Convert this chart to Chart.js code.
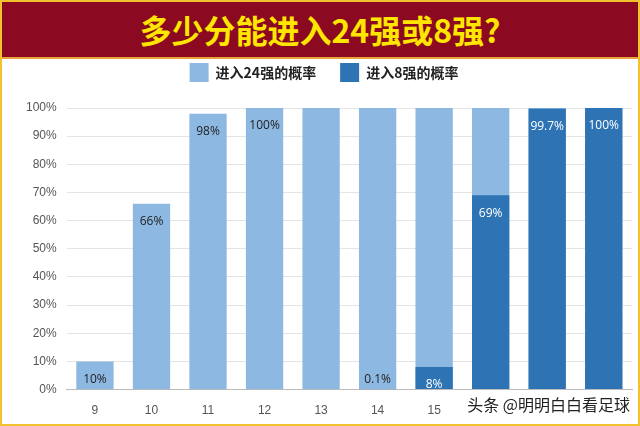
<!DOCTYPE html>
<html>
<head>
<meta charset="utf-8">
<script src="https://cdn.jsdelivr.net/npm/chart.js@4"></script>
<style>
  body { margin: 0; background: #fff; }
  #wrap { position: relative; width: 636px; height: 422px; border: 2px solid #f2c12e; overflow: hidden; }
  #banner { position: absolute; left: 0; top: 0; width: 636px; z-index: 2; height: 55px; background: #8b0a22;
    border-bottom: 2px solid #e8a33a; color: #ffe600;
    font: bold 32px "Noto Sans CJK SC", sans-serif; text-align: center; line-height: 55px; }
  #box { position: absolute; left: 0; top: 37px; width: 636px; height: 385px; }
  #mark { position: absolute; right: 6px; bottom: 8px; font: 16px "Noto Sans CJK SC", sans-serif; color: #222;
    background: rgba(255,255,255,0.85); padding: 0 2px; }
</style>
</head>
<body>
<div id="wrap">
  <div id="banner">多少分能进入24强或8强?</div>
  <div id="box"><canvas id="c"></canvas></div>
  <div id="mark">头条 @明明白白看足球</div>
</div>
<script>
// categories and values
const scores = ['9', '10', '11', '12', '13', '14', '15', '16', '17', '18'];
const top24 = [10, 66, 98, 100, 100, 100, 100, 100, 100, 100];
const top8 = [0, 0, 0, 0, 0, 0.1, 8, 69, 99.7, 100];
const top24Labels = ['10%', '66%', '98%', '100%', '', '', '', '', '', ''];
const top8Labels = ['', '', '', '', '', '0.1%', '8%', '69%', '99.7%', '100%'];

// draw value labels just inside the top of each bar
const valueLabels = {
    id: 'valueLabels',
    afterDatasetsDraw(chart) {
        const ctx = chart.ctx;
        ctx.save();
        ctx.font = '12px "Open Sans", sans-serif';
        ctx.textAlign = 'center';
        ctx.textBaseline = 'middle';
        [[0, top24Labels, '#222'], [1, top8Labels, '#fff']].forEach(([i, labels, color]) => {
            chart.getDatasetMeta(i).data.forEach((bar, j) => {
                if (!labels[j]) return;
                let y = bar.y + 18;
                let c = color;
                if (y > bar.base) { y = bar.base - 10; c = '#222'; }
                ctx.fillStyle = c;
                ctx.fillText(labels[j], bar.x, y);
            });
        });
        ctx.restore();
    }
};

// extra room under the legend
const legendGap = {
    id: 'legendGap',
    beforeInit(chart) {
        const fit = chart.legend.fit;
        chart.legend.fit = function () {
            fit.bind(chart.legend)();
            this.height += 16;
        };
    }
};

new Chart(document.getElementById('c'), {
    type: 'bar',
    data: {
        labels: scores,
        datasets: [
            { label: '进入24强的概率', data: top24, backgroundColor: '#8db8e2', order: 2 },
            { label: '进入8强的概率', data: top8, backgroundColor: '#2e74b5', order: 1 }
        ]
    },
    options: {
        responsive: true,
        maintainAspectRatio: false,
        animation: false,
        layout: { padding: { left: 14, right: 6, bottom: 0 } },
        datasets: { bar: { grouped: false, barPercentage: 0.66, categoryPercentage: 1 } },
        plugins: {
            legend: {
                labels: {
                    color: '#222',
                    boxWidth: 19, boxHeight: 19,
                    padding: 24,
                    font: { size: 14, weight: 'bold', family: '"Noto Sans CJK SC", sans-serif' },
                    sort: (a, b) => a.datasetIndex - b.datasetIndex
                }
            },
            tooltip: { enabled: false }
        },
        scales: {
            y: {
                min: 0, max: 100,
                ticks: { stepSize: 10, color: '#555', callback: v => v + '%', font: { size: 12 }, padding: 10 },
                grid: { color: '#e4e4e4', drawTicks: false },
                border: { display: false }
            },
            x: {
                ticks: { color: '#555', font: { size: 12 }, padding: 6, callback: (v, i) => i < 7 ? scores[i] : '' },
                grid: { display: false },
                border: { color: '#bbb' }
            }
        }
    },
    plugins: [valueLabels, legendGap]
});
</script>
</body>
</html>
